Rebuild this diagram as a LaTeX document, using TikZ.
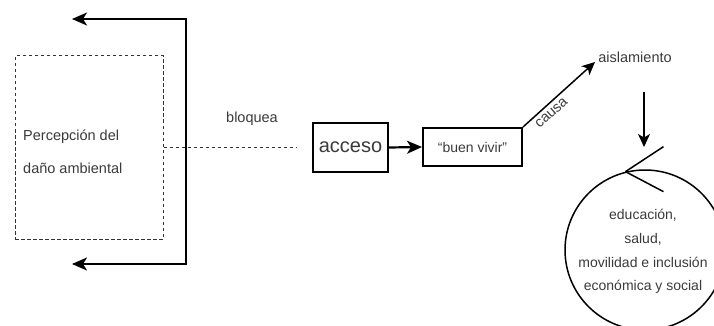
\documentclass[tikz,border=0pt]{standalone}
\usepackage{fontspec}
\setmainfont{Liberation Sans}
\usetikzlibrary{arrows.meta}
\definecolor{txt}{HTML}{3A3A3A}
\tikzset{
  lbl/.style={text=txt, font=\fontsize{14.5}{17}\selectfont, inner sep=1pt},
  boxn/.style={draw=black, line width=2pt, rectangle, inner sep=0pt},
  conn/.style={line width=2.2pt, -{Stealth[length=15pt,width=13pt,inset=4pt]}},
  thinconn/.style={line width=1.5pt, -{Stealth[length=13pt,width=12pt,inset=3.5pt]}},
  dashbox/.style={draw=black!80, line width=1pt, dash pattern=on 3.5pt off 2.5pt, rectangle, inner sep=0pt},
}
\begin{document}
\begin{tikzpicture}[x=1pt,y=-1pt]
\useasboundingbox (0,0) rectangle (714,326);
% dashed box
\node[dashbox, minimum width=148pt, minimum height=183pt] (perc) at (89,147.5) {};
\node[lbl, anchor=west, align=left, font=\fontsize{14.5}{33}\selectfont] (perctext) at (22,151.5) {Percepción del\\daño ambiental};
% bracket line with arrows
\coordinate (t1) at (186,19);
\coordinate (t2) at (72,19);
\coordinate (b1) at (186,264);
\coordinate (b2) at (72,264);
\draw[conn] (b1) -- (t1) -- (t2);
\draw[conn] (t1) -- (b1) -- (b2);
% dashed connector
\coordinate (dend) at (297,147.5);
\draw[line width=1pt, dash pattern=on 3.5pt off 2.5pt, black!80] (perc.east) -- (dend);
\node[lbl] (bloq) at (252,119) {bloquea};
% acceso
\node[boxn, minimum width=75pt, minimum height=49pt, text=txt, font=\fontsize{20}{24}\selectfont] (acc) at (350.5,147.5) {acceso};
\node[boxn, minimum width=99pt, minimum height=38pt, text=txt, font=\fontsize{14}{17}\selectfont] (buen) at (472.5,147) {“buen vivir”};
\draw[conn] (acc.east) -- (buen.west);
% causa
\coordinate (ctip) at (595,62);
\draw[thinconn] (buen.north east) -- (ctip);
\node[lbl, rotate=42] (causa) at (551.5,113) {causa};
\node[lbl] (ais) at (635,57) {aislamiento};
% down arrow
\coordinate (d1) at (644,92);
\coordinate (d2) at (644,147);
\draw[thinconn] (d1) -- (d2);
% circle
\node[draw=black, line width=1.5pt, circle, minimum size=160pt, inner sep=0pt] (circ) at (645,250) {};
\node[lbl, align=center, font=\fontsize{14}{23.7}\selectfont] (ctext) at (643,251.5) {educación,\\salud,\\movilidad e inclusión\\económica y social};
\draw[line width=1.5pt] (circ.104.6) -- ++(38,-25);
\draw[line width=1.5pt] (circ.104.6) -- ++(38,20);
\end{tikzpicture}
\end{document}
